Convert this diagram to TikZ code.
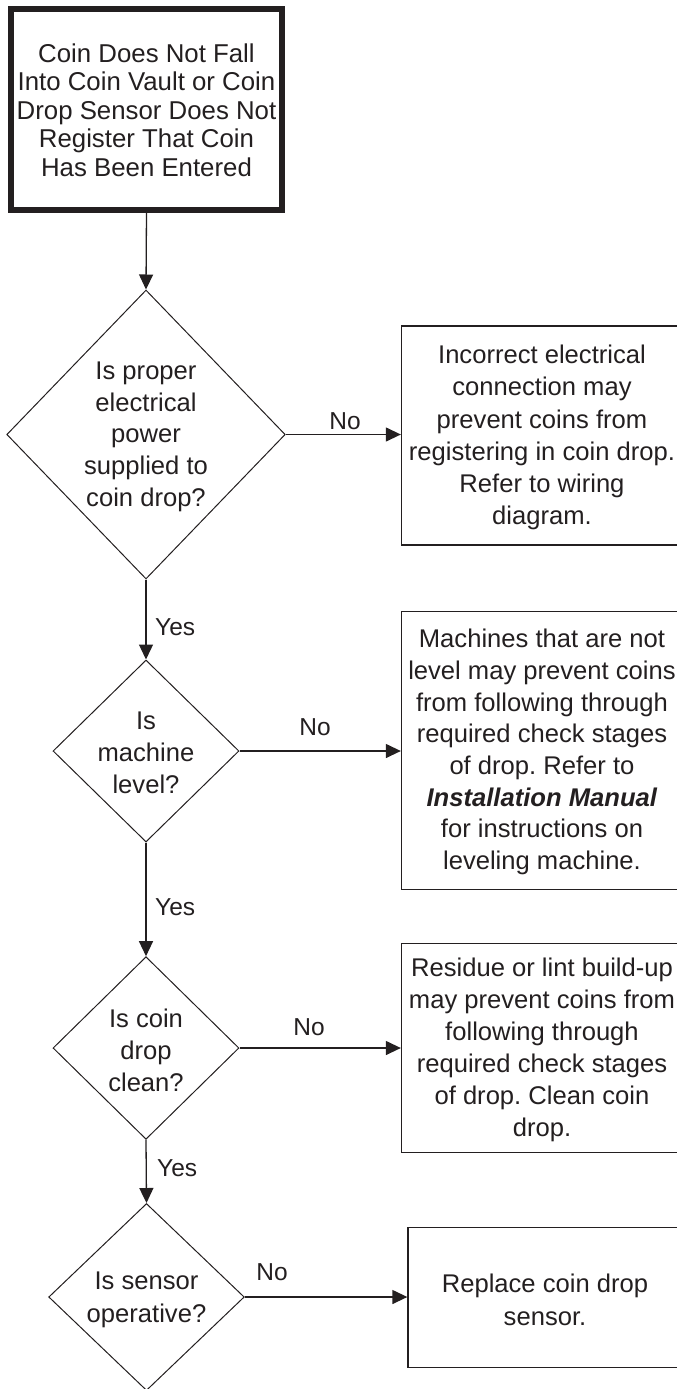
\documentclass[tikz,border=0pt]{standalone}
\usepackage{fontspec}
\setmainfont{Liberation Sans}
\frenchspacing
\usetikzlibrary{shapes.geometric,arrows.meta}
\definecolor{ink}{HTML}{231F20}
\begin{document}
\begin{tikzpicture}[x=1pt,y=-1pt,
  every node/.style={text=ink},
  txt/.style={align=center,font=\fontsize{25.6}{31.7}\selectfont,inner sep=0pt},
  lbl/.style={font=\fontsize{24.5}{26}\selectfont,inner sep=0pt},
  startbox/.style={draw=ink,line width=6pt,rectangle,inner sep=0pt},
  infobox/.style={draw=ink,line width=1.3pt,rectangle,inner sep=0pt},
  dia/.style={draw=ink,line width=1pt,diamond,inner sep=0pt,shape aspect=1},
  conn/.style={draw=ink,line width=1.3pt,-{Triangle[length=15pt,width=14pt]}}
]
\useasboundingbox (0,0) rectangle (677,1389);

% start box
\node[startbox,minimum width=271pt,minimum height=200pt] (start) at (146.5,109.5) {};
\node[txt,font=\fontsize{25.8}{28.5}\selectfont] (startt) at (146.5,110) {Coin Does Not Fall\\Into Coin Vault or Coin\\Drop Sensor Does Not\\Register That Coin\\Has Been Entered};

% diamonds
\node[dia,minimum width=278.5pt,minimum height=289pt] (d1) at (146,434.5) {};
\node[txt] (d1t) at (146,436.7) {Is proper\\electrical\\power\\supplied to\\coin drop?};

\node[dia,minimum width=186pt,minimum height=182pt] (d2) at (146,751) {};
\node[txt] (d2t) at (146,752.7) {Is\\machine\\level?};

\node[dia,minimum width=186pt,minimum height=182.6pt] (d3) at (146,1048) {};
\node[txt] (d3t) at (146,1050.5) {Is coin\\drop\\clean?};

\node[dia,minimum width=195.6pt,minimum height=187pt] (d4) at (146.5,1297) {};
\node[txt,font=\fontsize{25.6}{33.4}\selectfont] (d4t) at (146.5,1300) {Is sensor\\operative?};

% info boxes
\node[infobox,minimum width=281pt,minimum height=219pt] (b2) at (542,435.5) {};
\node[txt,font=\fontsize{25.6}{32.2}\selectfont] (b2t) at (542,437.5) {Incorrect electrical\\connection may\\prevent coins from\\registering in coin drop.\\Refer to wiring\\diagram.};

\node[infobox,minimum width=281pt,minimum height=277.6pt] (b3) at (542,750.5) {};
\node[txt] (b3t) at (542,752) {Machines that are not\\level may prevent coins\\from following through\\required check stages\\of drop. Refer to\\\textbf{\textit{Installation Manual}}\\for instructions on\\leveling machine.};

\node[infobox,minimum width=281pt,minimum height=209.4pt] (b4) at (542,1048) {};
\node[txt,font=\fontsize{25.6}{32}\selectfont] (b4t) at (542,1050) {Residue or lint build-up\\may prevent coins from\\following through\\required check stages\\of drop. Clean coin\\drop.};

\node[infobox,minimum width=275pt,minimum height=140pt] (b5) at (545.5,1297.3) {};
\node[txt,font=\fontsize{25.6}{33.4}\selectfont] (b5t) at (545,1300) {Replace coin drop\\sensor.};

% vertical connectors
\draw[conn] (start.south) -- (d1.north);
\draw[conn] (d1.south) -- (d2.north);
\draw[conn] (d2.south) -- (d3.north);
\draw[conn] (d3.south) -- (d4.north);

% horizontal connectors
\draw[conn] (d1.east) -- (d1.east -| b2.west);
\draw[conn] (d2.east) -- (d2.east -| b3.west);
\draw[conn] (d3.east) -- (d3.east -| b4.west);
\draw[conn] (d4.east) -- (d4.east -| b5.west);

% labels
\node[lbl] (no1) at (345,421) {No};
\node[lbl] (no2) at (315,726.7) {No};
\node[lbl] (no3) at (309,1026.7) {No};
\node[lbl] (no4) at (272,1271.7) {No};
\node[lbl,anchor=west] (yes1) at (155,627) {Yes};
\node[lbl,anchor=west] (yes2) at (155,906.7) {Yes};
\node[lbl,anchor=west] (yes3) at (157,1168.3) {Yes};
\end{tikzpicture}
\end{document}
